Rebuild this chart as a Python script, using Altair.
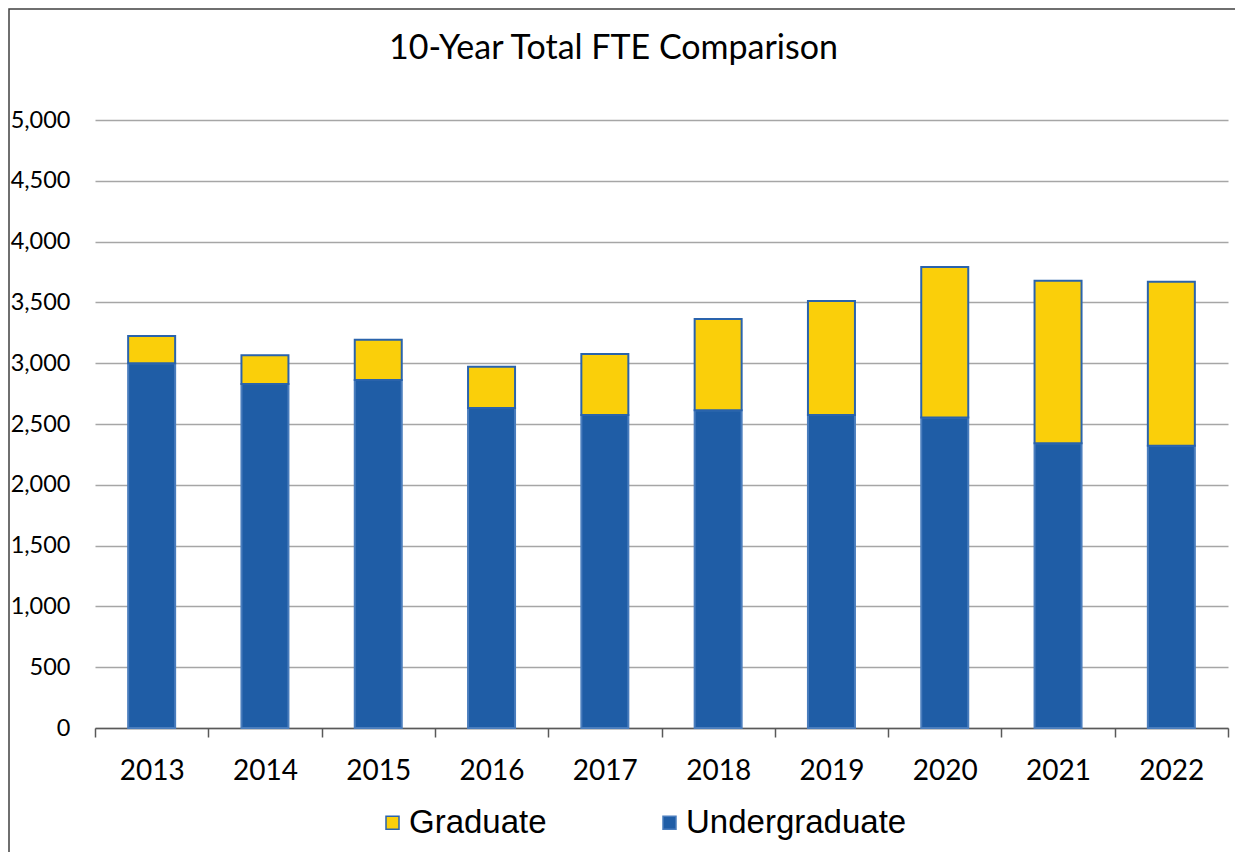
import altair as alt
import pandas as pd

years = ["2013", "2014", "2015", "2016", "2017", "2018", "2019", "2020", "2021", "2022"]
undergraduate = [3000, 2828, 2862, 2632, 2574, 2614, 2574, 2553, 2342, 2321]
graduate = [224, 238, 330, 338, 502, 750, 938, 1238, 1336, 1348]
series = ["Graduate", "Undergraduate"]

rows = []
for y, u, g in zip(years, undergraduate, graduate):
    rows.append({"Year": y, "Level": "Undergraduate", "FTE": u, "ord": 0})
    rows.append({"Year": y, "Level": "Graduate", "FTE": g, "ord": 1})
df = pd.DataFrame(rows)

bars = alt.Chart(df).mark_bar(size=47, strokeWidth=2).encode(
    x=alt.X("Year:N", title=None,
            scale=alt.Scale(paddingInner=0, paddingOuter=0),
            axis=alt.Axis(labelAngle=0, tickBand="extent", tickSize=9,
                          labelPadding=20, labelFont="Lato", labelFontSize=28,
                          labelColor="#000000", domainColor="#595959",
                          tickColor="#595959", domainWidth=1.5, tickWidth=1.5,
                          grid=False)),
    y=alt.Y("FTE:Q", title=None, stack="zero",
            scale=alt.Scale(domain=[0, 5000]),
            axis=alt.Axis(values=list(range(0, 5001, 500)), format=",.0f",
                          domain=False, ticks=False, labelPadding=25,
                          labelFont="Lato", labelFontSize=23.5,
                          labelColor="#000000", gridColor="#A6A6A6",
                          gridWidth=1.5)),
    color=alt.Color("Level:N",
                    scale=alt.Scale(domain=series, range=["#FACF0A", "#1F5DA6"]),
                    legend=alt.Legend(title=None, orient="none", direction="horizontal",
                                      legendX=281, legendY=686, padding=0,
                                      symbolType="square", symbolSize=169,
                                      symbolStrokeWidth=1.5,
                                      labelFont="Liberation Sans", labelFontSize=33,
                                      labelColor="#000000", labelOffset=0,
                                      labelLimit=400, columnPadding=106)),
    stroke=alt.Stroke("Level:N",
                      scale=alt.Scale(domain=series, range=["#2A63AC", "#4A7DBD"]),
                      legend=None),
    order=alt.Order("ord:Q"),
)

frame = alt.Chart(pd.DataFrame({"f": [0]})).mark_rect(
    fill=None, stroke="#404040", strokeWidth=1.5
).encode(
    x=alt.value(-86), x2=alt.value(1300), y=alt.value(-111), y2=alt.value(900)
)

chart = alt.layer(frame, bars).properties(
    width=1133, height=608,
    padding={"left": 87, "top": 112, "right": 7, "bottom": 124},
    autosize=alt.AutoSizeParams(type="none"),
    title=alt.TitleParams("10-Year Total FTE Comparison", font="Lato", fontSize=34,
                          fontWeight="normal", color="#000000", anchor="middle",
                          frame="group", dx=-48, offset=-58),
).configure_view(stroke=None)

chart.save("out.html", embed_options={"renderer": "svg", "actions": False})
